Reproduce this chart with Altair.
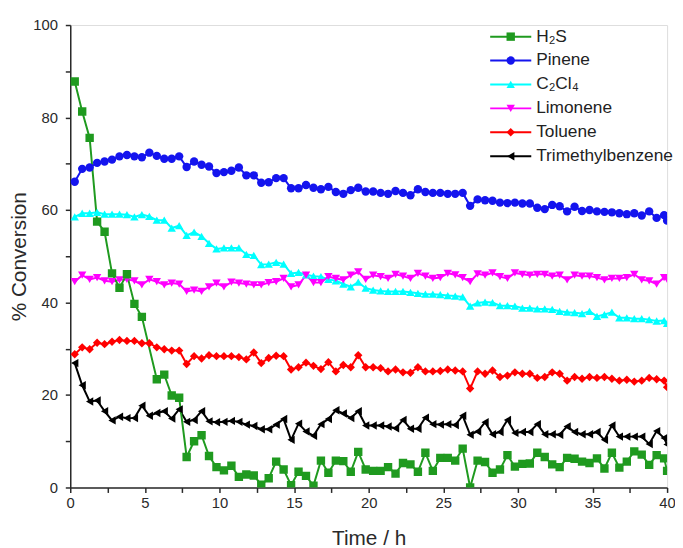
import altair as alt
import pandas as pd

T = [0.3, 0.8, 1.3, 1.8, 2.3, 2.8, 3.3, 3.8, 4.3, 4.8,
     5.3, 5.8, 6.3, 6.8, 7.3, 7.8, 8.3, 8.8, 9.3, 9.8,
     10.3, 10.8, 11.3, 11.8, 12.3, 12.8, 13.3, 13.8, 14.3, 14.8,
     15.3, 15.8, 16.3, 16.8, 17.3, 17.8, 18.3, 18.8, 19.3, 19.8,
     20.3, 20.8, 21.3, 21.8, 22.3, 22.8, 23.3, 23.8, 24.3, 24.8,
     25.3, 25.8, 26.3, 26.8, 27.3, 27.8, 28.3, 28.8, 29.3, 29.8,
     30.3, 30.8, 31.3, 31.8, 32.3, 32.8, 33.3, 33.8, 34.3, 34.8,
     35.3, 35.8, 36.3, 36.8, 37.3, 37.8, 38.3, 38.8, 39.3, 39.8]
T_END = 40.0

h2s = [87.8, 81.3, 75.6, 57.5, 55.3, 46.3, 43.2, 46.1, 39.7, 36.9,
       None, 23.4, 24.4, 19.9, 19.4, 6.6, 10.0, 11.3, 6.8, 4.4,
       3.7, 4.7, 2.3, 2.8, 2.6, 0.6, 2.0, 5.6, 3.9, 0.5,
       3.4, 2.5, 0.4, 5.8, 3.2, 5.8, 5.7, 3.4, 7.7, 3.9,
       3.6, 3.6, 4.4, 3.0, 5.3, 5.0, 3.4, 7.5, 3.6, 6.4,
       6.4, 5.8, 8.4, 0.0, 5.8, 5.5, 3.2, 3.9, 7.0, 4.5,
       5.1, 5.2, 7.5, 6.6, 5.0, 4.4, 6.4, 6.2, 5.6, 5.3,
       6.3, 4.1, 7.5, 4.3, 5.6, 7.8, 7.1, 4.9, 7.0, 6.3]
pinene = [66.1, 68.9, 69.2, 70.2, 70.5, 70.9, 71.6, 71.9, 71.6, 71.4,
          72.4, 71.7, 71.1, 71.1, 71.6, 69.3, 70.5, 69.8, 69.4, 68.0,
          68.2, 68.5, 69.2, 67.5, 67.5, 65.9, 66.0, 66.9, 66.9, 64.7,
          64.7, 65.4, 64.8, 64.5, 65.0, 63.9, 63.5, 64.3, 64.8, 64.0,
          64.0, 63.7, 63.5, 64.1, 63.7, 63.2, 64.5, 63.9, 63.7, 63.7,
          63.5, 63.5, 63.7, 60.9, 62.3, 62.1, 62.0, 61.6, 61.5, 61.6,
          61.4, 61.4, 60.5, 60.2, 61.1, 60.8, 59.7, 60.7, 59.8, 60.0,
          59.7, 59.6, 59.5, 59.3, 59.1, 59.3, 58.8, 59.7, 58.3, 58.9]
c2cl4 = [58.5, 59.3, 59.3, 59.5, 59.1, 59.1, 59.1, 59.0, 58.5, 59.0,
         58.6, 57.8, 57.8, 56.1, 56.6, 54.5, 55.2, 54.3, 52.8, 51.6,
         51.8, 51.8, 51.8, 50.4, 50.2, 48.2, 48.3, 48.7, 48.3, 46.3,
         46.5, 46.0, 45.7, 45.6, 45.0, 44.7, 44.0, 43.4, 44.4, 43.1,
         42.7, 42.5, 42.4, 42.4, 42.4, 42.2, 42.0, 41.8, 41.8, 41.7,
         41.5, 41.4, 41.2, 39.2, 39.9, 40.1, 40.0, 39.3, 39.3, 39.2,
         38.8, 38.8, 38.6, 38.6, 38.5, 38.1, 37.9, 37.8, 37.6, 38.1,
         37.0, 37.4, 37.9, 36.7, 36.7, 36.5, 36.5, 36.3, 36.0, 36.1]
limonene = [44.5, 45.9, 45.0, 45.4, 44.7, 44.5, 44.9, 45.0, 44.7, 43.8,
            45.0, 44.5, 43.8, 44.2, 44.0, 42.4, 42.7, 42.4, 43.4, 44.2,
            43.4, 44.4, 44.2, 44.0, 43.8, 43.8, 44.3, 44.5, 45.2, 43.4,
            43.8, 45.9, 44.3, 44.3, 45.6, 45.2, 44.9, 45.9, 46.6, 45.0,
            45.9, 45.6, 45.2, 46.1, 45.7, 45.2, 46.3, 45.7, 45.2, 45.4,
            46.3, 46.0, 45.4, 44.5, 46.2, 45.9, 46.4, 45.6, 45.2, 46.4,
            46.1, 45.9, 46.1, 46.1, 45.7, 45.9, 44.9, 45.9, 45.7, 45.7,
            45.4, 44.9, 45.2, 45.2, 45.4, 46.1, 44.9, 44.7, 44.0, 45.4]
toluene = [28.8, 30.3, 29.9, 31.3, 31.0, 31.5, 31.9, 31.7, 31.7, 31.2,
           31.2, 30.3, 29.9, 29.6, 29.6, 26.7, 28.4, 27.9, 28.6, 28.4,
           28.4, 28.4, 28.2, 27.7, 29.2, 26.9, 28.0, 28.5, 28.4, 25.5,
           26.0, 27.0, 26.3, 25.6, 27.1, 25.1, 26.5, 26.0, 28.6, 26.0,
           26.0, 25.8, 25.1, 25.5, 24.9, 24.8, 26.0, 25.1, 25.1, 25.2,
           25.5, 25.3, 25.1, 21.4, 25.1, 24.6, 25.3, 23.9, 24.2, 24.9,
           24.6, 24.6, 23.7, 23.9, 24.9, 24.6, 23.1, 23.9, 23.5, 23.9,
           23.7, 23.9, 23.5, 23.1, 23.3, 22.9, 23.1, 23.7, 23.4, 23.1]
tmb = [26.9, 22.1, 18.6, 18.8, 16.5, 14.5, 15.3, 15.0, 15.0, 17.7,
       15.5, 16.1, 16.5, 14.9, 16.9, 14.2, 14.6, 16.5, 14.3, 14.1,
       14.2, 14.4, 14.2, 13.6, 13.3, 12.6, 12.6, 13.6, 14.8, 10.3,
       13.8, 12.1, 11.2, 13.7, 14.8, 16.7, 16.0, 15.0, 16.5, 13.4,
       13.4, 13.4, 13.2, 12.8, 14.6, 12.7, 12.7, 15.1, 13.7, 13.6,
       13.7, 13.5, 15.5, 11.4, 12.1, 14.1, 11.5, 12.0, 14.6, 11.8,
       12.0, 12.0, 13.7, 11.5, 11.5, 11.4, 13.2, 12.0, 11.5, 11.5,
       12.0, 10.3, 13.4, 11.0, 11.0, 11.0, 11.0, 9.4, 12.2, 10.7]
# values at the right edge (t = 40 h)
end_vals = [3.6, 57.7, 35.5, 45.0, 21.7, 9.3]

names = ["H\u2082S", "Pinene", "C\u2082Cl\u2084", "Limonene", "Toluene", "Trimethylbenzene"]
colors = ["#1f9a1f", "#1414ee", "#00ffff", "#ff00ff", "#ff0000", "#000000"]
shapes = ["square", "circle", "triangle-up", "triangle-down", "diamond", "triangle-left"]
series_vals = [h2s, pinene, c2cl4, limonene, toluene, tmb]
line_keys = [n + " line" for n in names]

x_ticks = [0, 2.5, 5, 7.5, 10, 12.5, 15, 17.5, 20, 22.5, 25, 27.5, 30, 32.5, 35, 37.5, 40]
y_ticks = [0, 10, 20, 30, 40, 50, 60, 70, 80, 90, 100]

rows = []
# draw H2S last so it sits on top
order = [1, 2, 3, 4, 5, 0]
for k in order:
    name, vals, endv = names[k], series_vals[k], end_vals[k]
    for t, v in zip(T, vals):
        if v is None:
            continue
        rows.append({"series": name, "series_line": line_keys[k], "t": t, "v": v})
    rows.append({"series": name, "series_line": line_keys[k], "t": T_END, "v": endv})
df = pd.DataFrame(rows)

FONT = "Liberation Sans"
AX = "#2a2a2a"

x_enc = alt.X("t:Q", scale=alt.Scale(domain=[0, 40], nice=False, zero=False),
              axis=alt.Axis(values=x_ticks, title="Time / h",
                            labelExpr="datum.value % 5 == 0 ? datum.label : ''",
                            format="~g", labelOverlap=False, labelFlush=False,
                            grid=False, tickSize=5, tickWidth=1.5, tickColor=AX,
                            domainColor=AX, domainWidth=1.5,
                            labelFont=FONT, labelFontSize=15, labelColor=AX, labelPadding=3,
                            titleFont=FONT, titleFontSize=21, titleFontWeight="normal",
                            titleColor=AX, titlePadding=18))
y_enc = alt.Y("v:Q", scale=alt.Scale(domain=[0, 100], nice=False),
              axis=alt.Axis(values=y_ticks, title="% Conversion",
                            labelExpr="datum.value % 20 == 0 ? datum.label : ''",
                            labelOverlap=False, labelFlush=False,
                            grid=False, tickSize=5, tickWidth=1.5, tickColor=AX,
                            domainColor=AX, domainWidth=1.5,
                            labelFont=FONT, labelFontSize=15, labelColor=AX, labelPadding=8,
                            titleFont=FONT, titleFontSize=21, titleFontWeight="normal",
                            titleColor=AX, titlePadding=3))

LX, LY = 437, 3
common_leg = dict(orient="none", legendX=LX, legendY=LY, title=None,
                  labelFont=FONT, labelFontSize=17.5, labelColor="#222222",
                  labelOffset=17, rowPadding=5.2, symbolSize=72)

line = alt.Chart(df).mark_line(strokeWidth=2, clip=True).encode(
    x=x_enc, y=y_enc,
    stroke=alt.Stroke("series_line:N", scale=alt.Scale(domain=line_keys, range=colors),
                      legend=alt.Legend(symbolType="M-4.9,0L4.9,0", symbolStrokeWidth=2,
                                        labelExpr="' '", **common_leg)),
)

leg_pts = alt.Legend(symbolStrokeWidth=0, symbolOpacity=1, **common_leg)
points = alt.Chart(df).mark_point(filled=True, size=72, opacity=1, clip=True).encode(
    x=x_enc, y=y_enc,
    fill=alt.Fill("series:N", scale=alt.Scale(domain=names, range=colors), legend=leg_pts),
    shape=alt.Shape("series:N", scale=alt.Scale(domain=names, range=shapes), legend=leg_pts),
)

chart = alt.layer(line, points).properties(
    width=604, height=468,
    autosize=alt.AutoSizeParams(type="none"),
    padding={"left": 63, "top": 14, "right": 8, "bottom": 58},
).configure_view(stroke=None).configure(background="white")

chart.save("out.html", embed_options={"renderer": "svg", "actions": False})
